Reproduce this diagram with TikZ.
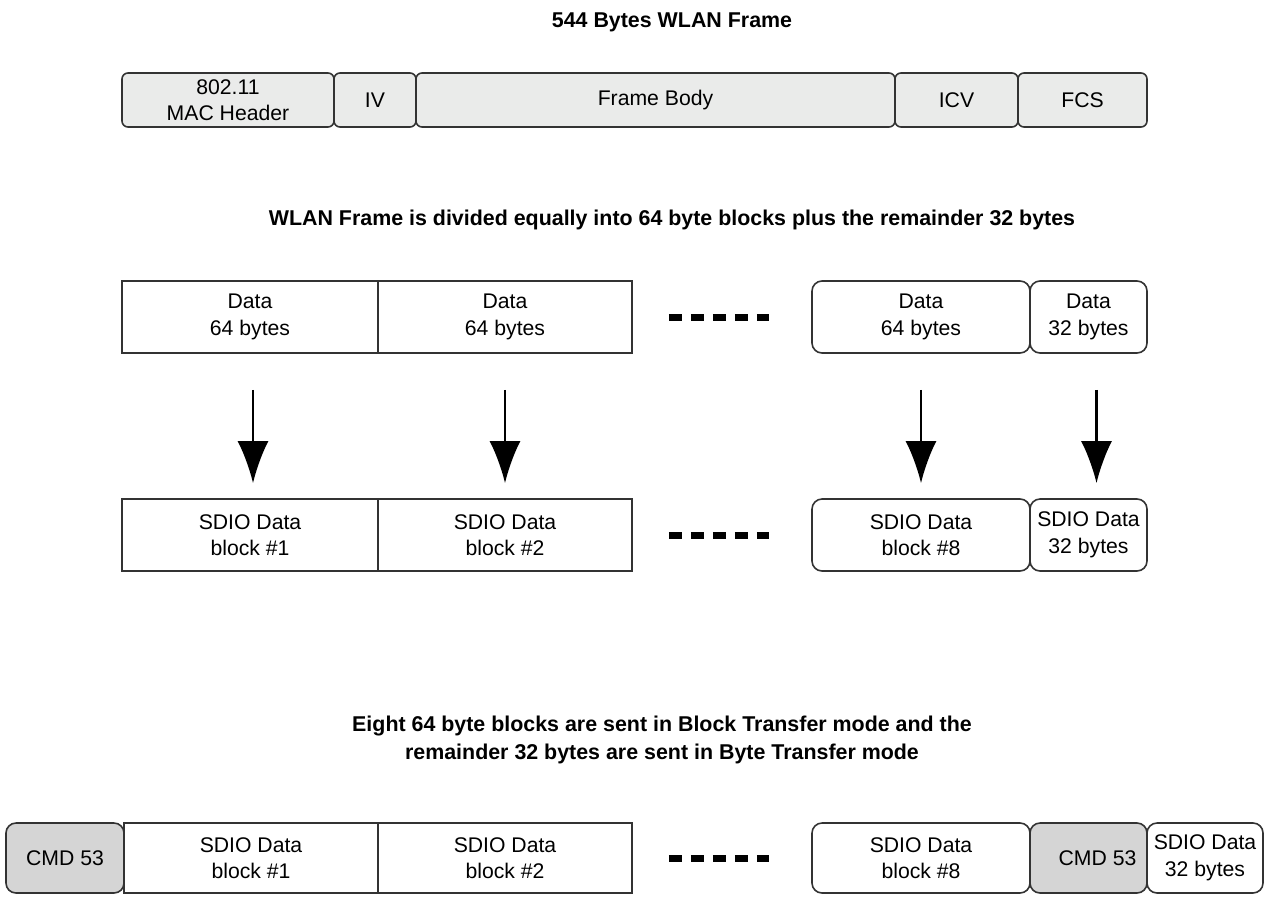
\documentclass[tikz,border=0pt]{standalone}
\usepackage{fontspec}
\setmainfont{Liberation Sans}
\usepackage{xcolor}
\usepackage{tikz}
\usetikzlibrary{arrows.meta,positioning}

\definecolor{fieldgray}{RGB}{234,235,234}
\definecolor{cmdgray}{RGB}{213,213,213}
\definecolor{edgegray}{RGB}{51,51,51}

\begin{document}
\begin{tikzpicture}[x=0.5pt, y=-0.5pt,
  field/.style={draw=edgegray, line width=0.8pt, fill=fieldgray, rounded corners=3pt,
    minimum height=27pt, inner sep=0pt, align=center, font=\fontsize{10.6}{13.3}\selectfont},
  block/.style={draw=edgegray, line width=0.8pt, fill=white,
    minimum height=36pt, inner sep=0pt, align=center, font=\fontsize{10.6}{13.3}\selectfont},
  rblock/.style={block, rounded corners=5pt},
  cmd/.style={block, rounded corners=5pt, fill=cmdgray, minimum height=35pt},
  note/.style={align=center, font=\bfseries\fontsize{10.7}{14}\selectfont},
  flow/.style={-{Latex[length=21pt, width=15.5pt]}, line width=1.3pt, draw=black,
    shorten <=18pt, shorten >=7.5pt},
  dashline/.style={line width=3.5pt, draw=black, dash pattern=on 6.5pt off 4.5pt,
    shorten <=18pt, shorten >=21pt}
]
\useasboundingbox (0,0) rectangle (1267,900);

\node[note] (t1) at (672,22) {544 Bytes WLAN Frame};
\node[field, minimum width=106pt] (mac) at (228,100) {802.11\\MAC Header};
\node[field, minimum width=41pt] (iv) at (375,100) {IV};
\node[field, minimum width=239.5pt] (body) at (655.5,100) {Frame Body};
\node[field, minimum width=61.5pt] (icv) at (956.5,100) {ICV};
\node[field, minimum width=64.5pt] (fcs) at (1082.5,100) {FCS};

\node[note] (t2) at (672,220) {WLAN Frame is divided equally into 64 byte blocks plus the remainder 32 bytes};
\node[block, minimum width=128pt] (d1) at (250,317) {Data\\64 bytes};
\node[block, minimum width=127pt] (d2) at (505,317) {Data\\64 bytes};
\node[rblock, minimum width=109pt] (d3) at (921,317) {Data\\64 bytes};
\node[rblock, minimum width=58.5pt] (d4) at (1088.5,317) {Data\\32 bytes};

\node[block, minimum width=128pt] (s1) at (250,535) {SDIO Data\\block \#1};
\node[block, minimum width=127pt] (s2) at (505,535) {SDIO Data\\block \#2};
\node[rblock, minimum width=109pt] (s3) at (921,535) {SDIO Data\\block \#8};
\node[rblock, minimum width=58.5pt] (s4) at (1088.5,535) {SDIO Data\\32 bytes};

\draw[dashline] (d2.east) -- (d3.west);
\draw[dashline] (s2.east) -- (s3.west);

\draw[flow] ([xshift=1.5pt]d1.south) -- ([xshift=1.5pt]s1.north);
\draw[flow] (d2.south) -- (s2.north);
\draw[flow] (d3.south) -- (s3.north);
\draw[flow] ([xshift=4pt]d4.south) -- ([xshift=4pt]s4.north);

\node[note] (t3) at (662,740) {Eight 64 byte blocks are sent in Block Transfer mode and the\\remainder 32 bytes are sent in Byte Transfer mode};
\node[cmd, minimum width=59pt] (c1) at (65,858) {CMD 53};
\node[block, minimum width=127pt, minimum height=35pt] (b1) at (251,858) {SDIO Data\\block \#1};
\node[block, minimum width=127pt, minimum height=35pt] (b2) at (505,858) {SDIO Data\\block \#2};
\node[rblock, minimum width=109pt, minimum height=35pt] (b8) at (921,858) {SDIO Data\\block \#8};
\node[cmd, minimum width=58.5pt] (c2) at (1088.5,858) {\hspace*{9pt}CMD 53};
\node[rblock, minimum width=58pt, minimum height=35pt] (b9) at (1205,858) {SDIO Data\\32 bytes};

\draw[dashline] (b2.east) -- (b8.west);
\end{tikzpicture}
\end{document}
